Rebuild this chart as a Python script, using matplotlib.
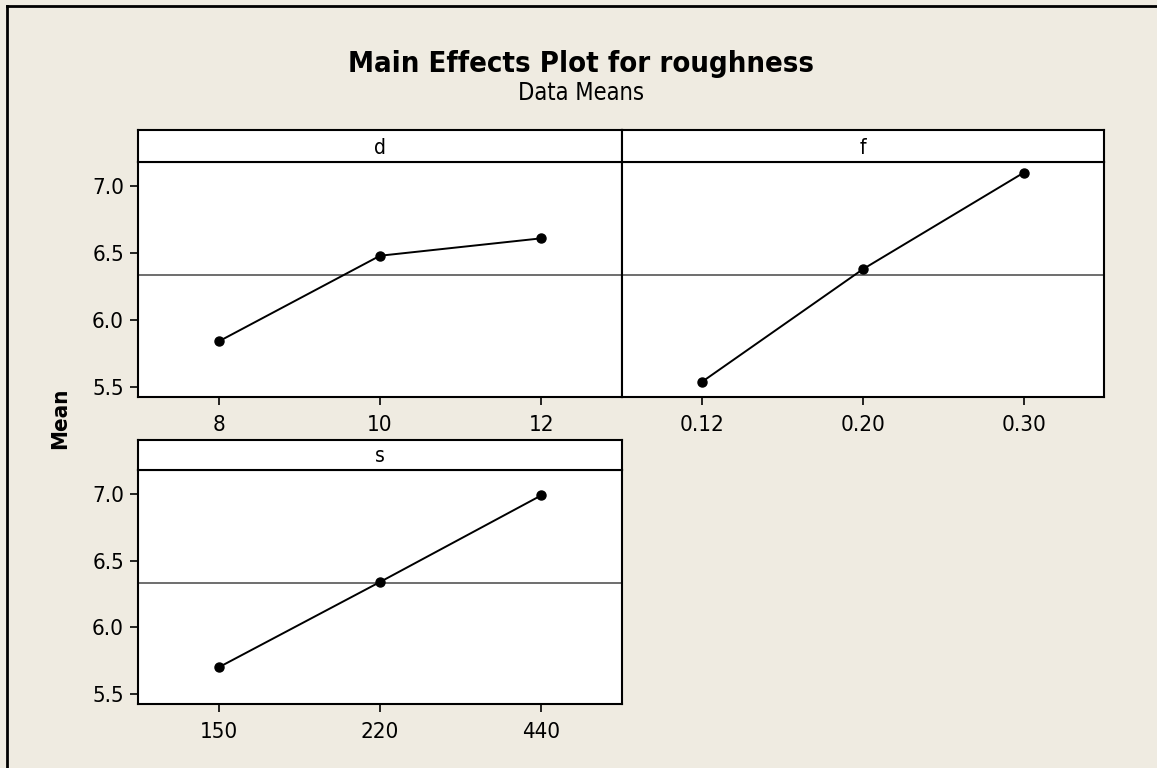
import matplotlib.pyplot as plt
from matplotlib.lines import Line2D

# data
d_levels = ["8", "10", "12"]
d_means = [5.84, 6.48, 6.61]
f_levels = ["0.12", "0.20", "0.30"]
f_means = [5.54, 6.38, 7.10]
s_levels = ["150", "220", "440"]
s_means = [5.70, 6.34, 6.99]
grand_mean = 6.335
y_ticks = [5.5, 6.0, 6.5, 7.0]

plt.rcParams["font.family"] = "DejaVu Sans"
plt.rcParams["font.stretch"] = "condensed"

bg = "#EFEBE1"
W, H = 1157, 768
fig = plt.figure(figsize=(W / 100, H / 100), dpi=100, facecolor=bg)


def px_axes(x0, y0, x1, y1):
    # pixel box (top-left origin) -> figure axes
    return fig.add_axes([x0 / W, 1 - y1 / H, (x1 - x0) / W, (y1 - y0) / H])


def panel(box, head, name, levels, means, show_y):
    ax = px_axes(*box)
    ax.set_facecolor("white")
    pos = list(range(1, len(levels) + 1))
    ax.axhline(grand_mean, color="#6E6E6E", lw=1.4, zorder=1)
    ax.plot(pos, means, color="black", lw=1.4, marker="o", ms=6.5, zorder=3)
    ax.set_xlim(0.5, 3.5)
    ax.set_ylim(5.425, 7.18)
    ax.set_xticks(pos)
    ax.set_xticklabels(levels)
    ax.set_yticks(y_ticks)
    ax.set_yticklabels([f"{v:.1f}" for v in y_ticks])
    ax.tick_params(direction="out", length=6, width=1.2, labelsize=16, pad=4)
    ax.tick_params(axis="x", pad=7)
    if not show_y:
        ax.tick_params(axis="y", left=False, labelleft=False)
    for sp in ax.spines.values():
        sp.set_linewidth(1.5)
    ax.spines["top"].set_color("#505050")

    hx = px_axes(*head)
    hx.set_facecolor("white")
    hx.set_xticks([])
    hx.set_yticks([])
    for sp in hx.spines.values():
        sp.set_linewidth(1.5)
    hx.text(0.5, 0.45, name, ha="center", va="center", fontsize=15, transform=hx.transAxes)
    return ax


panel((138, 162, 622, 397), (138, 130, 622, 162), "d", d_levels, d_means, True)
panel((622, 162, 1104, 397), (622, 130, 1104, 162), "f", f_levels, f_means, False)
panel((138, 470, 622, 704), (138, 440, 622, 470), "s", s_levels, s_means, True)

fig.text(581 / W, 1 - 72 / H, "Main Effects Plot for roughness", ha="center", va="baseline",
         fontsize=21, fontweight="bold")
fig.text(581 / W, 1 - 100 / H, "Data Means", ha="center", va="baseline", fontsize=17)
fig.text(60 / W, 1 - 418 / H, "Mean", ha="center", va="center", rotation=90,
         fontsize=16, fontweight="bold")

# figure frame (only left and top edges visible)
fig.add_artist(Line2D([7 / W, 7 / W], [0, 1 - 6 / H], color="black", lw=2))
fig.add_artist(Line2D([7 / W, 1], [1 - 6 / H, 1 - 6 / H], color="black", lw=2))

fig.savefig("out.png", dpi=100, facecolor=bg)
